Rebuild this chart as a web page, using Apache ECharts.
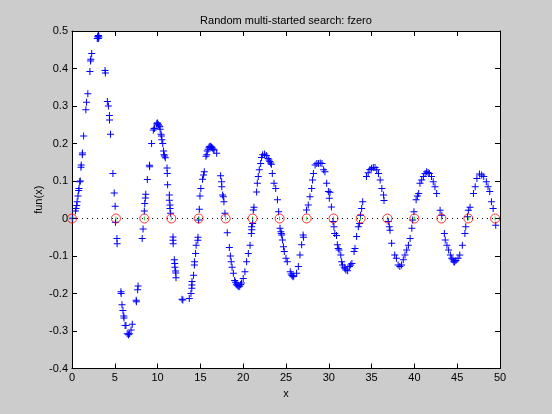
<!DOCTYPE html>
<html>
<head>
	<meta charset="utf-8" />
	<title>Random multi-started search: fzero</title>
	<script src="https://cdn.jsdelivr.net/npm/echarts@6/dist/echarts.min.js"></script>
	<style>
		body { margin: 0; background: #cccccc; }
	</style>
</head>
<body>
	<!-- chart container -->
	<div id="main" style="width: 552px;height: 414px;"></div>
	<script type="text/javascript">

		// points visited by the search (blue +)
		var searchX = [
			0.08,0.4,0.47,0.55,0.6,0.7,0.78,0.82,0.9,0.97,1.05,1.08,1.2,1.22,1.36,1.62,1.7,1.85,2.09,2.17,2.2,2.3,
			2.95,3.0,3.05,3.1,3.15,3.08,3.86,3.9,4.13,4.25,4.37,4.38,4.5,4.78,4.93,5.04,5.08,5.25,5.27,
			5.72,5.74,5.84,5.95,6.05,6.07,6.2,6.3,6.45,6.6,6.73,6.9,7.04,7.5,7.52,7.67,7.72,
			8.2,8.3,8.45,8.5,8.57,8.62,8.8,9.05,9.07,9.3,9.5,9.6,9.65,9.9,9.95,10.0,10.1,10.2,10.25,10.3,
			10.4,10.45,10.5,10.6,10.7,10.75,10.8,10.9,11.1,11.13,11.17,11.37,11.37,11.45,11.45,11.52,
			11.8,11.8,11.82,11.95,12.0,12.02,12.1,12.12,12.15,12.85,12.95,13.7,13.9,14.0,14.0,14.02,14.2,14.3,14.32,14.44,14.5,14.7,14.72,14.8,
			14.87,14.95,15.05,15.25,15.37,15.45,15.65,15.75,15.8,15.9,16.0,16.1,16.2,16.3,16.4,16.5,16.6,16.9,
			17.36,17.48,17.5,17.6,17.68,17.75,17.87,18.14,18.38,18.5,18.6,18.7,18.85,19.0,19.1,19.2,19.3,19.4,
			19.5,19.6,19.7,19.8,20.0,20.2,20.4,20.6,20.8,20.95,20.98,21.0,21.1,21.18,21.26,
			21.57,21.65,21.76,21.88,22.04,22.15,22.27,22.5,22.7,22.9,23.0,23.1,23.2,23.3,23.4,23.6,23.8,24.0,24.14,
			24.3,24.4,24.45,24.5,24.6,24.7,24.8,25.0,25.15,25.5,25.6,25.7,25.8,25.9,26.24,26.44,26.63,26.83,27.0,27.05,
			27.4,27.6,27.8,28.0,28.1,28.2,28.4,28.6,28.8,29.0,29.2,29.4,29.55,29.75,29.95,30.06,30.14,30.3,
			30.5,30.6,30.7,30.9,31.0,31.1,31.2,31.4,31.5,31.6,31.8,31.9,32.0,32.2,32.4,32.55,32.7,32.95,33.06,
			33.25,33.45,33.6,33.7,33.84,33.96,34.4,34.6,34.8,35.0,35.2,35.4,35.6,35.8,36.0,36.2,36.4,36.45,
			36.95,37.07,37.15,37.34,37.7,37.9,38.1,38.3,38.5,38.7,38.9,39.1,39.3,39.5,39.7,39.8,39.95,
			40.2,40.35,40.5,40.65,40.85,41.05,41.25,41.43,41.6,41.75,42.0,42.2,42.4,42.6,43.0,43.2,
			43.5,43.6,43.8,44.0,44.2,44.35,44.5,44.6,44.7,44.85,45.1,45.3,45.6,45.9,46.0,46.2,46.3,46.5,
			46.9,47.1,47.3,47.6,47.86,48.1,48.4,48.6,48.8,49.0,49.2,49.5
		];
		var searchY = [
			0.001,0.02,0.027,0.035,0.045,0.06,0.075,0.08,0.098,0.1,0.137,0.143,0.17,0.175,0.22,0.29,0.31,0.333,0.392,0.42,0.425,0.44,
			0.48,0.485,0.487,0.488,0.484,0.48,0.395,0.388,0.312,0.3,0.275,0.263,0.225,0.12,0.068,0.033,-0.01,-0.053,-0.067,
			-0.195,-0.2,-0.23,-0.245,-0.26,-0.265,-0.285,-0.285,-0.307,-0.31,-0.307,-0.297,-0.282,-0.218,-0.222,-0.19,-0.18,
			-0.053,-0.028,0.02,0.04,0.055,0.065,0.104,0.142,0.138,0.2,0.236,0.24,0.241,0.252,0.255,0.254,0.25,0.247,0.245,0.238,
			0.225,0.22,0.21,0.2,0.18,0.17,0.167,0.162,0.135,0.12,0.09,0.063,0.049,0.036,0.027,0.014,
			-0.049,-0.058,-0.067,-0.11,-0.12,-0.13,-0.14,-0.145,-0.158,-0.215,-0.217,-0.213,-0.2,-0.186,-0.177,-0.168,-0.151,-0.124,-0.115,-0.093,-0.071,-0.058,-0.05,-0.004,
			0.025,0.06,0.08,0.105,0.116,0.125,0.166,0.17,0.18,0.185,0.19,0.192,0.193,0.19,0.188,0.185,0.183,0.174,
			0.114,0.098,0.085,0.063,0.058,0.045,0.014,-0.038,-0.077,-0.1,-0.115,-0.13,-0.146,-0.165,-0.17,-0.175,-0.178,-0.18,
			-0.182,-0.18,-0.176,-0.172,-0.16,-0.142,-0.115,-0.093,-0.071,-0.04,-0.022,-0.03,-0.013,0.023,0.03,
			0.071,0.094,0.112,0.13,0.147,0.163,0.17,0.172,0.168,0.16,0.156,0.152,0.148,0.145,0.12,0.094,0.08,0.05,0.018,
			-0.026,-0.035,-0.04,-0.044,-0.057,-0.075,-0.088,-0.106,-0.115,-0.142,-0.148,-0.152,-0.155,-0.153,-0.146,-0.128,-0.097,-0.07,-0.044,-0.05,
			0.023,0.036,0.058,0.08,0.103,0.12,0.143,0.147,0.147,0.148,0.147,0.13,0.125,0.094,0.072,0.054,0.07,0.031,
			-0.008,-0.022,-0.04,-0.045,-0.07,-0.08,-0.084,-0.097,-0.115,-0.124,-0.13,-0.134,-0.137,-0.139,-0.128,-0.124,-0.12,-0.088,-0.08,
			-0.048,-0.022,-0.013,0.009,0.027,0.045,0.112,0.122,0.131,0.134,0.136,0.136,0.13,0.12,0.103,0.08,0.063,0.048,
			-0.008,-0.022,-0.031,-0.066,-0.097,-0.106,-0.124,-0.128,-0.124,-0.11,-0.097,-0.084,-0.071,-0.053,-0.026,-0.004,0.018,
			0.05,0.06,0.067,0.094,0.103,0.112,0.12,0.125,0.123,0.12,0.112,0.098,0.085,0.067,0.022,0.009,
			-0.04,-0.057,-0.071,-0.084,-0.097,-0.106,-0.11,-0.115,-0.116,-0.112,-0.106,-0.097,-0.071,-0.04,-0.022,0.005,0.022,0.03,
			0.067,0.085,0.107,0.119,0.116,0.112,0.098,0.085,0.072,0.045,0.027,-0.018
		];
		// zeros found (red circles)
		var zeroX = [0,5.13,8.45,11.6,14.8,17.95,21.1,24.25,27.42,30.55,33.72,36.85,40.0,43.15,46.3,49.43];

		var blackText = {color:'#000', fontSize:11, fontFamily:'Liberation Sans'};
		var plus = 'path://M3,0H4V3H7V4H4V7H3V4H0V3H3Z';

		var myChart = echarts.init(document.getElementById("main"));

		var option = {
			backgroundColor:'#cccccc',
			animation:false,
			grid:{
				left:72, right:52, top:31, bottom:45.5,
				show:true, backgroundColor:'#fff', borderWidth:0
			},
			graphic:[{
				type:'text', x:286, y:21,
				style:{text:'Random multi-started search: fzero', fill:'#000', font:'11px Liberation Sans',
					textAlign:'center', textVerticalAlign:'middle'}
			}],
			xAxis:[
				{
					type:'value', min:0, max:50, interval:5, position:'bottom',
					name:'x', nameLocation:'middle', nameGap:20, nameTextStyle:blackText,
					axisLine:{onZero:false, lineStyle:{color:'#000', width:1}},
					axisTick:{inside:true, length:5, lineStyle:{color:'#000'}},
					axisLabel:Object.assign({margin:4}, blackText),
					splitLine:{show:false}
				},
				{
					type:'value', min:0, max:50, interval:5, position:'top',
					axisLine:{onZero:false, lineStyle:{color:'#000', width:1}},
					axisTick:{inside:true, length:5, lineStyle:{color:'#000'}},
					axisLabel:{show:false}, splitLine:{show:false}
				}
			],
			yAxis:[
				{
					type:'value', min:-0.4, max:0.5, interval:0.1, position:'left',
					name:'fun(x)', nameLocation:'middle', nameGap:28, nameMoveOverlap:false, nameTextStyle:blackText,
					axisLine:{onZero:false, lineStyle:{color:'#000', width:1}},
					axisTick:{inside:true, length:5, lineStyle:{color:'#000'}},
					axisLabel:Object.assign({margin:4, formatter:function(v){ return +v.toFixed(1) + ''; }}, blackText),
					splitLine:{show:false}
				},
				{
					type:'value', min:-0.4, max:0.5, interval:0.1, position:'right',
					axisLine:{onZero:false, lineStyle:{color:'#000', width:1}},
					axisTick:{inside:true, length:5, lineStyle:{color:'#000'}},
					axisLabel:{show:false}, splitLine:{show:false}
				}
			],
			series:[
				{
					// dotted zero line
					type:'line', symbol:'none', silent:true,
					data:[[0,0],[50,0]],
					lineStyle:{color:'#000', width:1, type:[1,4]}
				},
				{
					type:'scatter', symbol:plus, symbolSize:7,
					itemStyle:{color:'#0000ff', opacity:1},
					data:searchX.map(function(x,i){ return [x, searchY[i]]; })
				},
				{
					type:'scatter', symbol:'circle', symbolSize:9, clip:false,
					itemStyle:{color:'transparent', borderColor:'#ff0000', borderWidth:1},
					data:zeroX.map(function(x){ return [x, 0]; })
				},
				{
					type:'scatter', symbol:'rect', symbolSize:[1,4], clip:false,
					itemStyle:{color:'#00c000'},
					data:zeroX.map(function(x){ return [x, 0]; })
				}
			]
		};

		myChart.setOption(option);

	</script>
</body>
</html>
